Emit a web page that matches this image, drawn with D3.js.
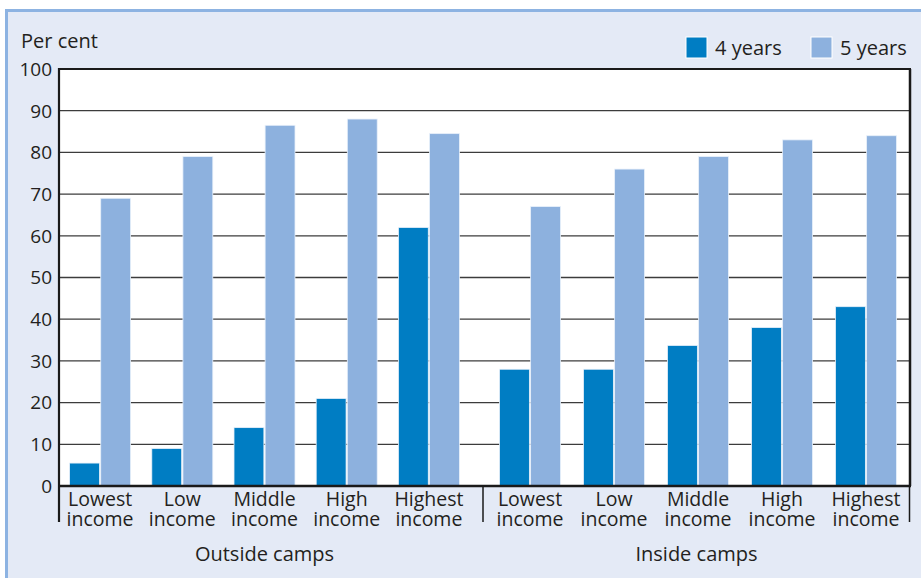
<!DOCTYPE html>
<html><head><meta charset="utf-8">
<script src="https://cdn.jsdelivr.net/npm/d3@7"></script>
<style>html,body{margin:0;padding:0;background:#fff;}svg{display:block;font-family:"Open Sans",sans-serif;}</style>
</head><body>
<svg id="chart" width="921" height="578"></svg>
<script>
const sections = ["Outside camps", "Inside camps"];
const catLine1 = ["Lowest", "Low", "Middle", "High", "Highest"];
const catLine2 = ["income", "income", "income", "income", "income"];
const series = ["4 years", "5 years"];
const outside4 = [5.5, 9, 14, 21, 62];
const outside5 = [69, 79, 86.5, 88, 84.5];
const inside4 = [28, 28, 33.7, 38, 43];
const inside5 = [67, 76, 79, 83, 84];
const yTicks = [0, 10, 20, 30, 40, 50, 60, 70, 80, 90, 100];
const yTitle = "Per cent";

const colors = {"4 years": "#007dc3", "5 years": "#8db1de"};
const svg = d3.select("#chart");
const textCol = "#231f20";

// frame
svg.append("rect").attr("x", 6.5).attr("y", 10.5).attr("width", 930).attr("height", 600)
  .attr("fill", "#e4eaf6").attr("stroke", "#8db3e2").attr("stroke-width", 3);

const L = 59, R = 910, T = 69, B = 486;
const y = d3.scaleLinear().domain([0, 100]).range([B, T]);

svg.append("rect").attr("x", L).attr("y", T).attr("width", R - L).attr("height", B - T).attr("fill", "#fff");

// gridlines
svg.append("g").selectAll("line").data(yTicks.filter(d => d > 0 && d < 100)).join("line")
  .attr("x1", L).attr("x2", R).attr("y1", d => y(d)).attr("y2", d => y(d))
  .attr("stroke", "#3c3c3c").attr("stroke-width", 1.3);

// y tick labels
svg.append("g").selectAll("text").data(yTicks).join("text")
  .attr("x", 52).attr("y", d => y(d)).attr("dy", "0.36em").attr("text-anchor", "end")
  .attr("font-size", 19).attr("fill", textCol).text(d => d);

svg.append("text").attr("x", 21).attr("y", 48).attr("font-size", 20).attr("fill", textCol).text(yTitle);

const sectionData = [
  {name: sections[0], range: [59, 470], vals: {"4 years": outside4, "5 years": outside5}},
  {name: sections[1], range: [488, 908], vals: {"4 years": inside4, "5 years": inside5}}
];
const sectionTitleX = [264.5, 696.5];
const x1 = d3.scaleBand().domain(series).range([-30.5, 30.5]).paddingInner(0.04);

sectionData.forEach((sec, si) => {
  const x0 = d3.scaleBand().domain(catLine1).range(sec.range);
  const g = svg.append("g");
  catLine1.forEach((c, ci) => {
    const cx = x0(c) + x0.bandwidth() / 2;
    series.forEach(s => {
      const v = sec.vals[s][ci];
      g.append("rect").attr("x", cx + x1(s)).attr("width", x1.bandwidth())
        .attr("y", y(v)).attr("height", y(0) - y(v))
        .attr("fill", colors[s]).attr("stroke", "#e8f0fa").attr("stroke-width", 0.8);
    });
    g.append("text").attr("x", cx).attr("y", 505.5).attr("text-anchor", "middle")
      .attr("font-size", 19.5).attr("fill", textCol).text(c);
    g.append("text").attr("x", cx).attr("y", 526).attr("text-anchor", "middle")
      .attr("font-size", 19.5).attr("fill", textCol).text(catLine2[ci]);
  });
  svg.append("text").attr("x", sectionTitleX[si]).attr("y", 561).attr("text-anchor", "middle")
    .attr("font-size", 20).attr("fill", textCol).text(sec.name);
});

// plot border and axes
const ax = svg.append("g").attr("stroke", "#1a1a1a").attr("fill", "none");
ax.append("line").attr("x1", L).attr("x2", R + 1).attr("y1", T).attr("y2", T).attr("stroke-width", 2);
ax.append("line").attr("x1", R).attr("x2", R).attr("y1", T).attr("y2", B).attr("stroke-width", 2.5);
ax.append("line").attr("x1", L).attr("x2", R + 1).attr("y1", B).attr("y2", B).attr("stroke-width", 2.5);
ax.append("line").attr("x1", L).attr("x2", L).attr("y1", T - 1).attr("y2", 522).attr("stroke-width", 2.2);
ax.append("line").attr("x1", 483).attr("x2", 483).attr("y1", B).attr("y2", 522).attr("stroke-width", 1.5);
ax.append("line").attr("x1", R - 0.5).attr("x2", R - 0.5).attr("y1", B).attr("y2", 522).attr("stroke-width", 1.5);

// legend
const leg = svg.append("g");
const legX = [686, 811];
series.forEach((s, i) => {
  leg.append("rect").attr("x", legX[i]).attr("y", 37).attr("width", 21).attr("height", 21)
    .attr("fill", colors[s]).attr("stroke", "#fff").attr("stroke-width", 1);
  leg.append("text").attr("x", legX[i] + 29).attr("y", 55).attr("font-size", 20)
    .attr("fill", textCol).text(s);
});
</script>
</body></html>
